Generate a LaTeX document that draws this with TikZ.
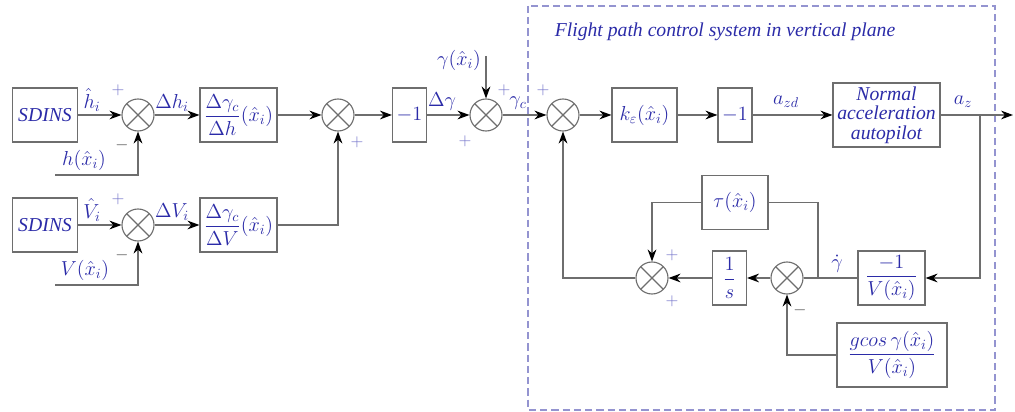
\documentclass[tikz,border=0pt]{standalone}
\usepackage{amsmath}
\usepackage{fontspec}
\setmainfont{Liberation Serif}
\usetikzlibrary{arrows.meta,positioning,calc}
\definecolor{wire}{HTML}{6E6E6E}
\definecolor{ink}{HTML}{2B2BA8}
\definecolor{sign}{HTML}{7070C8}
\definecolor{frame}{HTML}{9494D0}
\newcommand{\TopY}{115}
\newcommand{\LowY}{225}
\newcommand{\LoopY}{278}
\newcommand{\BlkW}{1.625cm}
\newcommand{\xh}{(\hat{x}_i)}

\begin{document}
\begin{tikzpicture}[x=0.025cm, y=-0.025cm,
    font=\fontsize{14}{16}\selectfont, text=ink,
    link/.style={draw=wire, line width=0.8pt},
    edge/.style={link, -{Stealth[length=3mm,width=2.2mm,black]}},
    block/.style={draw=wire, line width=0.8pt, fill=white, minimum height=1.35cm, inner sep=1pt, align=center},
    sum/.style={circle, draw=wire, line width=0.8pt, fill=white, minimum size=0.8cm, inner sep=0pt,
      path picture={\draw[wire, line width=0.8pt] (path picture bounding box.north west) -- (path picture bounding box.south east)
        (path picture bounding box.north east) -- (path picture bounding box.south west);}},
    lbl/.style={inner sep=0.5pt},
    sgn/.style={lbl, text=sign, font=\fontsize{13}{13}\selectfont},
    neg/.style={lbl, text=wire!70!black, font=\fontsize{13}{13}\selectfont},
  ]
\useasboundingbox (0,0) rectangle (1015,412);

% --- Frame of the inner loop ------------------------------------------------
\draw[frame, line width=0.8pt, dash pattern=on 5pt off 3pt] (528,6) rectangle (995,410);
\node (title) at (725,32) {\itshape Flight path control system in vertical plane};

% --- Error channels -----------------------------------------------------------
\node[block, minimum width=\BlkW] (sdinsA) at (45,\TopY) {\itshape SDINS};
\node[block, minimum width=\BlkW] (sdinsB) at (45,\LowY) {\itshape SDINS};
\node[sum] (sumA) at (138,\TopY) {};
\node[sum] (sumB) at (138,\LowY) {};
\node[block, minimum width=1.925cm] (gainH) at (238.5,\TopY) {$\dfrac{\Delta\gamma_c}{\Delta h}\xh$};
\node[block, minimum width=1.925cm] (gainV) at (238.5,\LowY) {$\dfrac{\Delta\gamma_c}{\Delta V}\xh$};
\coordinate (hIn) at (55,175);
\coordinate (vIn) at (55,285);

% --- Command path -------------------------------------------------------------
\node[sum] (sumC) at (338,\TopY) {};
\node[block, minimum width=0.85cm] (negA) at (409.5,\TopY) {$-1$};
\node[sum] (sumD) at (486,\TopY) {};
\coordinate (gIn) at (486,56);
\node[sum] (sumE) at (563,\TopY) {};
\node[block, minimum width=\BlkW] (kc) at (644.5,\TopY) {$k_\varepsilon\xh$};
\node[block, minimum width=0.85cm] (negB) at (735,\TopY) {$-1$};
\node[block, minimum width=2.675cm, minimum height=1.6cm, inner sep=0pt, font=\fontsize{14}{14}\selectfont\itshape] (pilot) at (886.5,\TopY) {Normal\\acceleration\\autopilot};
\coordinate (out) at (1013,\TopY);
\coordinate (branch) at (980,\TopY);

% --- Feedback loop ------------------------------------------------------------
\node[block, minimum width=1.675cm] (invV) at (891.5,\LoopY) {$\dfrac{-1}{V\xh}$};
\node[sum] (sumF) at (787,\LoopY) {};
\coordinate (tap) at (818,\LoopY);
\node[block, minimum width=0.85cm] (integ) at (729.5,\LoopY) {$\dfrac{1}{s}$};
\node[sum] (sumG) at (652,\LoopY) {};
\node[block, minimum width=1.65cm] (tau) at (735,202.5) {$\tau\xh$};
\node[block, minimum width=2.75cm, minimum height=1.6cm] (gcos) at (892,355) {$\dfrac{gcos\,\gamma\xh}{V\xh}$};

% --- Connectors ---------------------------------------------------------------
\draw[edge] (sdinsA) -- (sumA);
\draw[edge] (hIn) -| (sumA.south);
\draw[edge] (sumA) -- (gainH);
\draw[edge] (sdinsB) -- (sumB);
\draw[edge] (vIn) -| (sumB.south);
\draw[edge] (sumB) -- (gainV);
\draw[edge] (gainH) -- (sumC);
\draw[edge] (gainV) -| (sumC.south);
\draw[edge] (sumC) -- (negA);
\draw[edge] (negA) -- (sumD);
\draw[edge] (gIn) -- (sumD.north);
\draw[edge] (sumD) -- (sumE);
\draw[edge] (sumE) -- (kc);
\draw[edge] (kc) -- (negB);
\draw[edge] (negB) -- (pilot);
\draw[edge] (pilot) -- (out);
\draw[edge] (branch) |- (invV.east);
\draw[link] (invV) -- (sumF);
\draw[link] (tap) |- (tau.east);
\draw[edge] (tau.west) -| (sumG.north);
\draw[edge] (sumF) -- (integ);
\draw[edge] (integ) -- (sumG);
\draw[edge] (sumG.west) -| (sumE.south);
\draw[edge] (gcos.west) -| (sumF.south);

% --- Signal labels --------------------------------------------------------------
\node[lbl] (hHat) at (92,100) {$\hat{h}_i$};
\node[lbl] (hEst) at (84,160) {$h\xh$};
\node[lbl] (dh) at (172,103) {$\Delta h_i$};
\node[lbl] (vHat) at (92,210) {$\hat{V}_i$};
\node[lbl] (vEst) at (85,270) {$V\xh$};
\node[lbl] (dv) at (172,212) {$\Delta V_i$};
\node[lbl] (dg) at (442,102) {$\Delta\gamma$};
\node[lbl] (gEst) at (459,60) {$\gamma\xh$};
\node[lbl] (gc) at (518,103) {$\gamma_c$};
\node[lbl] (azd) at (786,102) {$a_{zd}$};
\node[lbl] (az) at (963,102) {$a_z$};
\node[lbl] (gdot) at (837,264) {$\dot{\gamma}$};

% --- Signs ------------------------------------------------------------------------
\foreach \x/\y [count=\k] in {118/90, 118/199, 357/142, 504/90, 465/141, 543/90, 672/255, 672/301}
  \node[sgn] (plus\k) at (\x,\y) {$+$};
\foreach \x/\y [count=\k] in {122/145, 122/255, 800/310}
  \node[neg] (minus\k) at (\x,\y) {$-$};

\end{tikzpicture}
\end{document}
